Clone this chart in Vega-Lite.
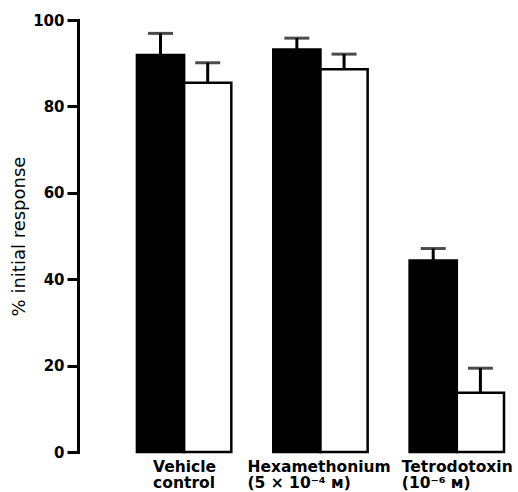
{
  "$schema": "https://vega.github.io/schema/vega-lite/v6.json",
  "width": 440,
  "height": 432,
  "autosize": {"type": "none"},
  "padding": {"left": 78, "top": 20, "right": 0, "bottom": 40},
  "background": "white",
  "config": {
    "view": {"stroke": null},
    "font": "DejaVu Sans"
  },
  "data": {
    "values": [
      {"group": "Vehicle control", "series": "A", "value": 91.9, "upper": 96.9},
      {"group": "Vehicle control", "series": "B", "value": 85.5, "upper": 90.1},
      {"group": "Hexamethonium", "series": "A", "value": 93.2, "upper": 95.8},
      {"group": "Hexamethonium", "series": "B", "value": 88.6, "upper": 92.1},
      {"group": "Tetrodotoxin", "series": "A", "value": 44.3, "upper": 47.1},
      {"group": "Tetrodotoxin", "series": "B", "value": 13.7, "upper": 19.4}
    ]
  },
  "encoding": {
    "x": {
      "field": "group",
      "type": "nominal",
      "sort": null,
      "scale": {"paddingInner": 0.3077, "paddingOuter": 0.2674, "align": 0.808},
      "axis": {
        "title": null,
        "domain": false,
        "ticks": false,
        "labelAngle": 0,
        "labelAlign": "left",
        "labelBaseline": "top",
        "labelPadding": 7,
        "labelFontSize": 15.5,
        "labelFontWeight": "bold",
        "labelColor": "black",
        "labelLineHeight": 16,
        "labelOffset": {"condition": [{"test": "datum.value == 'Vehicle control'", "value": -31}, {"test": "datum.value == 'Hexamethonium'", "value": -73}], "value": -55},
        "labelExpr": "datum.value == 'Vehicle control' ? ['Vehicle', 'control'] : datum.value == 'Hexamethonium' ? ['Hexamethonium', '(5 × 10⁻⁴ ᴍ)'] : ['Tetrodotoxin', '(10⁻⁶ ᴍ)']"
      }
    },
    "xOffset": {"field": "series", "type": "nominal", "scale": {"paddingInner": 0, "paddingOuter": 0}}
  },
  "layer": [
    {
      "mark": {"type": "rule", "stroke": "black", "strokeWidth": 3},
      "encoding": {
        "y": {"field": "value", "type": "quantitative"},
        "y2": {"field": "upper"}
      }
    },
    {
      "mark": {"type": "tick", "color": "black", "size": 25, "thickness": 3, "orient": "horizontal"},
      "encoding": {
        "y": {"field": "upper", "type": "quantitative"}
      }
    },
    {
      "mark": {"type": "bar", "stroke": "black", "strokeWidth": 2.5},
      "encoding": {
        "y": {
          "field": "value",
          "type": "quantitative",
          "scale": {"domain": [0, 100]},
          "axis": {
            "title": "% initial response",
            "titleFontSize": 18,
            "titleFontWeight": "normal",
            "titleColor": "black",
            "titlePadding": 4,
            "values": [0, 20, 40, 60, 80, 100],
            "grid": false,
            "domainColor": "black",
            "domainWidth": 3,
            "domainCap": "square",
            "tickColor": "black",
            "tickWidth": 3,
            "tickSize": 11,
            "labelFontSize": 15,
            "labelFontWeight": "bold",
            "labelColor": "black",
            "labelPadding": 3
          }
        },
        "fill": {"field": "series", "type": "nominal", "scale": {"domain": ["A", "B"], "range": ["black", "white"]}, "legend": null}
      }
    }
  ]
}
